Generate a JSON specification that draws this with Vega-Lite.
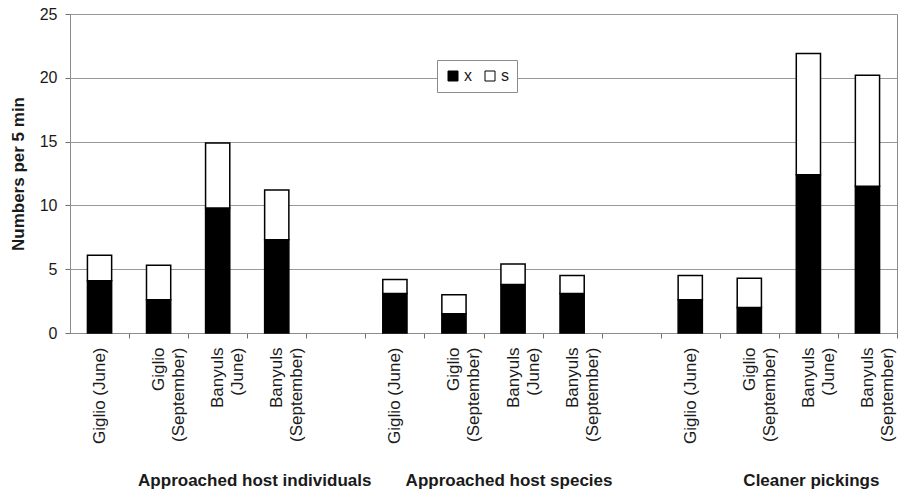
{
  "$schema": "https://vega.github.io/schema/vega-lite/v6.json",
  "width": 827,
  "height": 319,
  "autosize": {"type": "none"},
  "padding": {"left": 70, "top": 14, "right": 7, "bottom": 162},
  "background": "white",
  "config": {
    "font": "Liberation Sans",
    "view": {"stroke": "#8c8c8c", "strokeWidth": 1},
    "axis": {"labelColor": "#1a1a1a", "titleColor": "#1a1a1a", "domainColor": "#8c8c8c", "tickColor": "#707070", "gridColor": "#999999"}
  },
  "datasets": {
    "bars": [
      {"slot": "1:Giglio (June)", "part": "x", "value": 4.1},
      {"slot": "1:Giglio (June)", "part": "s", "value": 2.0},
      {"slot": "1:Giglio|(September)", "part": "x", "value": 2.6},
      {"slot": "1:Giglio|(September)", "part": "s", "value": 2.7},
      {"slot": "1:Banyuls|(June)", "part": "x", "value": 9.8},
      {"slot": "1:Banyuls|(June)", "part": "s", "value": 5.1},
      {"slot": "1:Banyuls|(September)", "part": "x", "value": 7.3},
      {"slot": "1:Banyuls|(September)", "part": "s", "value": 3.9},
      {"slot": "2:Giglio (June)", "part": "x", "value": 3.1},
      {"slot": "2:Giglio (June)", "part": "s", "value": 1.1},
      {"slot": "2:Giglio|(September)", "part": "x", "value": 1.5},
      {"slot": "2:Giglio|(September)", "part": "s", "value": 1.5},
      {"slot": "2:Banyuls|(June)", "part": "x", "value": 3.8},
      {"slot": "2:Banyuls|(June)", "part": "s", "value": 1.6},
      {"slot": "2:Banyuls|(September)", "part": "x", "value": 3.1},
      {"slot": "2:Banyuls|(September)", "part": "s", "value": 1.4},
      {"slot": "3:Giglio (June)", "part": "x", "value": 2.6},
      {"slot": "3:Giglio (June)", "part": "s", "value": 1.9},
      {"slot": "3:Giglio|(September)", "part": "x", "value": 2.0},
      {"slot": "3:Giglio|(September)", "part": "s", "value": 2.3},
      {"slot": "3:Banyuls|(June)", "part": "x", "value": 12.4},
      {"slot": "3:Banyuls|(June)", "part": "s", "value": 9.5},
      {"slot": "3:Banyuls|(September)", "part": "x", "value": 11.5},
      {"slot": "3:Banyuls|(September)", "part": "s", "value": 8.7}
    ]
  },
  "encoding": {
    "x": {
      "field": "slot",
      "type": "nominal",
      "sort": null,
      "scale": {
        "domain": ["1:Giglio (June)", "1:Giglio|(September)", "1:Banyuls|(June)", "1:Banyuls|(September)", "gap1",
                   "2:Giglio (June)", "2:Giglio|(September)", "2:Banyuls|(June)", "2:Banyuls|(September)", "gap2",
                   "3:Giglio (June)", "3:Giglio|(September)", "3:Banyuls|(June)", "3:Banyuls|(September)"],
        "paddingInner": 0.59,
        "paddingOuter": 0.295
      },
      "axis": {
        "title": null,
        "labelAngle": -90,
        "labelFontSize": 17,
        "labelLineHeight": 20,
        "labelPadding": 9,
        "tickSize": 5,
        "tickOffset": 29.54,
        "labelOffset": -29.54,
        "labelExpr": "indexof(datum.value, ':') < 0 ? '' : split(slice(datum.value, 2), '|')",
        "labelOverlap": false,
        "labelLimit": 200
      }
    }
  },
  "layer": [
    {
      "data": {"name": "bars"},
      "mark": {"type": "bar", "stroke": "black", "strokeWidth": 1.5},
      "encoding": {
        "y": {
          "field": "value",
          "type": "quantitative",
          "stack": "zero",
          "scale": {"domain": [0, 25], "nice": false},
          "axis": {
            "title": "Numbers per 5 min",
            "titleFontSize": 17,
            "titleFontWeight": "bold",
            "titlePadding": 12,
            "values": [0, 5, 10, 15, 20, 25],
            "labelFontSize": 16,
            "labelPadding": 8,
            "tickSize": 5,
            "grid": true
          }
        },
        "color": {
          "field": "part",
          "type": "nominal",
          "scale": {"domain": ["x", "s"], "range": ["black", "white"]},
          "legend": {
            "title": null,
            "orient": "none",
            "legendX": 367,
            "legendY": 46,
            "direction": "horizontal",
            "symbolType": "square",
            "symbolSize": 100,
            "symbolStrokeColor": "black",
            "symbolStrokeWidth": 1,
            "labelFontSize": 16,
            "labelOffset": 3,
            "labelColor": "#1a1a1a",
            "columnPadding": 10,
            "padding": 8,
            "strokeColor": "#8c8c8c",
            "fillColor": "white"
          }
        },
        "order": {"field": "part", "sort": "descending"}
      }
    },
    {
      "data": {"values": [{"slot": "1:Banyuls|(September)", "group": "Approached host individuals"}]},
      "mark": {"type": "text", "fontSize": 17, "fontWeight": "bold", "color": "#1a1a1a", "baseline": "middle", "align": "center", "dx": -22},
      "encoding": {"y": {"datum": -11.6, "type": "quantitative"}, "text": {"field": "group"}}
    },
    {
      "data": {"values": [{"slot": "2:Banyuls|(June)", "group": "Approached host species"}]},
      "mark": {"type": "text", "fontSize": 17, "fontWeight": "bold", "color": "#1a1a1a", "baseline": "middle", "align": "center", "dx": -4},
      "encoding": {"y": {"datum": -11.6, "type": "quantitative"}, "text": {"field": "group"}}
    },
    {
      "data": {"values": [{"slot": "3:Banyuls|(June)", "group": "Cleaner pickings"}]},
      "mark": {"type": "text", "fontSize": 17, "fontWeight": "bold", "color": "#1a1a1a", "baseline": "middle", "align": "center", "dx": 3},
      "encoding": {"y": {"datum": -11.6, "type": "quantitative"}, "text": {"field": "group"}}
    }
  ]
}
